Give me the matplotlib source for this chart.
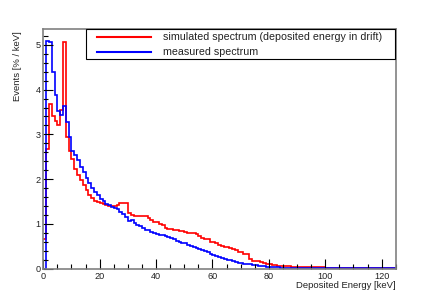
import numpy as np
import matplotlib
matplotlib.use("Agg")
import matplotlib.pyplot as plt
from matplotlib.lines import Line2D
from matplotlib.patches import Rectangle
from matplotlib.ticker import MultipleLocator

# Histogram bin edges (1 keV bins, 0..125 keV)
edges = np.arange(0, 126, 1)

# simulated spectrum (deposited energy in drift), % / keV
simulated = [
    0.66, 2.68, 3.69, 3.40, 3.29, 3.21, 3.55, 5.07, 2.95, 2.62,
    2.45, 2.23, 2.10, 1.97, 1.86, 1.75, 1.65, 1.58, 1.52, 1.48,
    1.46, 1.44, 1.41, 1.40, 1.40, 1.40, 1.42, 1.47, 1.47, 1.47,
    1.24, 1.19, 1.18, 1.17, 1.17, 1.17, 1.17, 1.13, 1.08, 1.04,
    1.04, 1.00, 0.98, 0.90, 0.89, 0.89, 0.87, 0.85, 0.83, 0.83,
    0.81, 0.80, 0.80, 0.79, 0.78, 0.72, 0.68, 0.67, 0.65, 0.60,
    0.59, 0.58, 0.52, 0.50, 0.49, 0.47, 0.45, 0.43, 0.41, 0.38,
    0.36, 0.33, 0.32, 0.21, 0.17, 0.16, 0.16, 0.15, 0.13, 0.10,
    0.09, 0.07, 0.07, 0.06, 0.06, 0.05, 0.05, 0.05, 0.04, 0.04,
    0.04, 0.04, 0.03, 0.03, 0.03, 0.03, 0.03, 0.03, 0.03, 0.03,
    0.02, 0.02, 0.02, 0.02, 0.02, 0.02, 0.02, 0.02, 0.02, 0.02,
    0.02, 0.02, 0.02, 0.02, 0.02, 0.02, 0.02, 0.02, 0.02, 0.02,
    0.02, 0.02, 0.02, 0.02, 0.02,
]

# measured spectrum, % / keV
measured = [
    0.00, 5.09, 5.06, 4.40, 3.88, 3.53, 3.44, 3.64, 3.27, 2.95,
    2.63, 2.54, 2.42, 2.28, 2.15, 2.02, 1.91, 1.80, 1.71, 1.64,
    1.56, 1.50, 1.45, 1.43, 1.38, 1.35, 1.32, 1.27, 1.22, 1.15,
    1.06, 1.08, 1.02, 0.98, 0.94, 0.91, 0.87, 0.85, 0.81, 0.79,
    0.78, 0.76, 0.74, 0.72, 0.71, 0.68, 0.65, 0.62, 0.60, 0.58,
    0.56, 0.53, 0.50, 0.48, 0.46, 0.43, 0.42, 0.40, 0.36, 0.33,
    0.31, 0.28, 0.25, 0.23, 0.21, 0.20, 0.18, 0.16, 0.14, 0.13,
    0.12, 0.11, 0.10, 0.09, 0.08, 0.07, 0.06, 0.05, 0.05, 0.04,
    0.035, 0.03, 0.03, 0.025, 0.02, 0.02, 0.02, 0.02, 0.015, 0.015,
    0.015, 0.015, 0.01, 0.01, 0.01, 0.01, 0.01, 0.01, 0.01, 0.01,
    0.005, 0.005, 0.005, 0.005, 0.005, 0.005, 0.005, 0.005, 0.005, 0.005,
    0.005, 0.005, 0.005, 0.005, 0.005, 0.005, 0.005, 0.005, 0.005, 0.005,
    0.005, 0.005, 0.005, 0.005, 0.005,
]

labels = ["simulated spectrum (deposited energy in drift)", "measured spectrum"]
colors = ["#ff0000", "#0000ff"]

plt.rcParams["font.family"] = ["Liberation Sans", "DejaVu Sans"]

W, H = 440, 299
fig = plt.figure(figsize=(W / 100, H / 100), dpi=100)
x0, x1, ytop, ybot = 43.3, 395.7, 29.3, 268.5
ax = fig.add_axes([x0 / W, 1 - ybot / H, (x1 - x0) / W, (ybot - ytop) / H])

ax.stairs(simulated, edges, color=colors[0], lw=1.2, baseline=None)
ax.stairs(measured, edges, color=colors[1], lw=1.2, baseline=None)

ax.set_xlim(0, 125)
ax.set_ylim(0, 5.35)

for s in ax.spines.values():
    s.set_color("#808080")
    s.set_linewidth(1.2)

ax.xaxis.set_major_locator(MultipleLocator(20))
ax.xaxis.set_minor_locator(MultipleLocator(5))
ax.yaxis.set_major_locator(MultipleLocator(1))
ax.yaxis.set_minor_locator(MultipleLocator(0.2))
ax.tick_params(which="both", direction="in", top=False, right=False,
               color="black", labelsize=6.6, width=0.8, labelcolor="#222222")
ax.tick_params(which="major", length=7)
ax.tick_params(which="minor", length=3.5)
ax.tick_params(axis="x", which="major", pad=2.6)
ax.tick_params(axis="y", which="major", pad=1.8)

fig.text(x1 / W, 1 - 286 / H, "Deposited Energy [keV]", ha="right", va="center",
         fontsize=6.8, color="#222222")
fig.text(18 / W, 1 - 31 / H, "Events [% / keV]", ha="center", va="top", rotation=90,
         fontsize=6.8, color="#222222")

# legend box
lx0, lx1, ly0, ly1 = 85.7, 395.0, 29.3, 59.0
fig.add_artist(Rectangle((lx0 / W, 1 - ly1 / H), (lx1 - lx0) / W, (ly1 - ly0) / H,
                         transform=fig.transFigure, facecolor="white",
                         edgecolor="black", lw=0.8, zorder=5))
for lab, col, yy in zip(labels, colors, [36.7, 52.3]):
    fig.add_artist(Line2D([96.7 / W, 151 / W], [1 - yy / H, 1 - yy / H],
                          transform=fig.transFigure, color=col, lw=1.5, zorder=6))
    fig.text(162.7 / W, 1 - yy / H, lab, ha="left", va="center", fontsize=7.7,
             color="#222222", zorder=6)

fig.savefig("out.png", dpi=100)
